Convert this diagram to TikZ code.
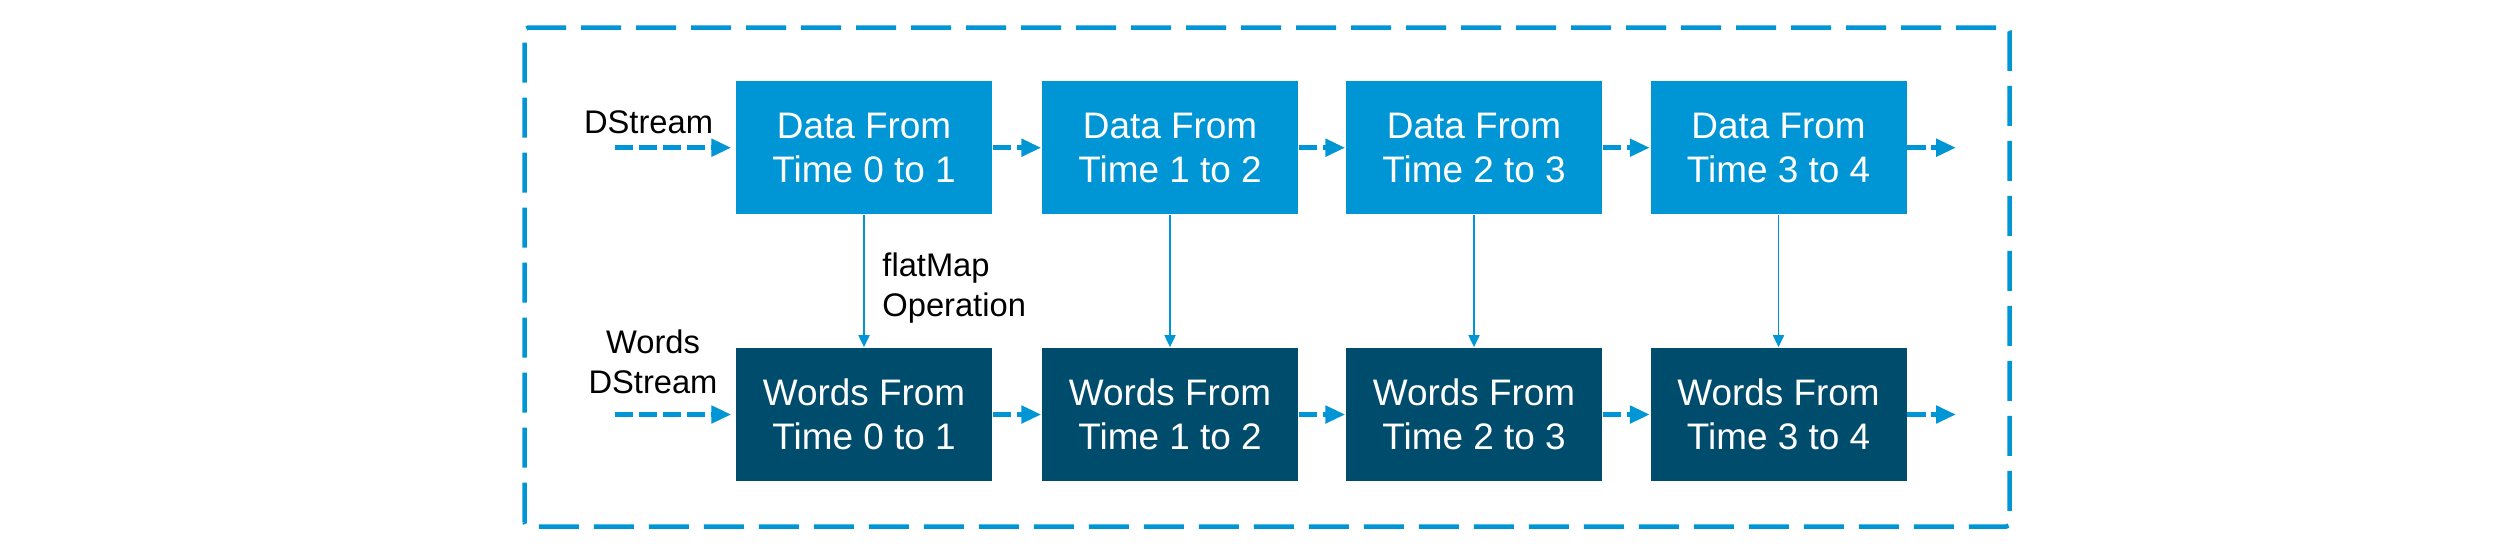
\documentclass[tikz,border=0pt]{standalone}
\usepackage{fontspec}
\setmainfont{Liberation Sans}
\usetikzlibrary{arrows.meta}

\definecolor{streamblue}{RGB}{0,150,214}
\definecolor{wordsblue}{RGB}{0,76,108}

\tikzset{
    batch/.style={fill=streamblue, text=white, inner sep=0pt, minimum width=2.56cm, minimum height=1.333cm, align=center, font=\fontsize{10.5}{12.5}\selectfont},
    wordbatch/.style={batch, fill=wordsblue},
    tag/.style={inner sep=0pt, align=center, font=\fontsize{9.3}{11.5}\selectfont},
    flow/.style={streamblue, line width=1.55pt, dash pattern=on 0.183cm off 0.057cm, -{Triangle[length=0.2cm, width=0.17cm]}},
    op/.style={streamblue, line width=0.5pt, -{Triangle[length=0.12cm, width=0.11cm]}}
}

\begin{document}
\begin{tikzpicture}
    \useasboundingbox (0, 0) rectangle (25, 5.53);
    \draw[streamblue, line width=1.28pt, dash pattern=on 0.4cm off 0.15cm, rounded corners=0.04cm] (5.245, 0.263) rectangle (20.097, 5.255);

    \node[batch] (D0) at (8.64, 4.053) {Data From\\Time 0 to 1};
    \node[batch] (D1) at (11.70, 4.053) {Data From\\Time 1 to 2};
    \node[batch] (D2) at (14.74, 4.053) {Data From\\Time 2 to 3};
    \node[batch] (D3) at (17.785, 4.053) {Data From\\Time 3 to 4};

    \node[wordbatch] (W0) at (8.64, 1.385) {Words From\\Time 0 to 1};
    \node[wordbatch] (W1) at (11.70, 1.385) {Words From\\Time 1 to 2};
    \node[wordbatch] (W2) at (14.74, 1.385) {Words From\\Time 2 to 3};
    \node[wordbatch] (W3) at (17.785, 1.385) {Words From\\Time 3 to 4};

    \node[tag, anchor=south] (dlabel) at (6.485, 4.18) {DStream};
    \node[tag, anchor=south] (wlabel) at (6.53, 1.58) {Words\\DStream};
    \node[tag, anchor=north west, align=left] (oplabel) at (8.817, 3.013) {flatMap\\Operation};

    \coordinate (Din) at (6.15, 4.053);
    \coordinate (Win) at (6.15, 1.385);
    \coordinate (Dout) at (19.56, 4.053);
    \coordinate (Wout) at (19.56, 1.385);

    \draw[flow, shorten >=0.04cm] (Din) -- (D0);
    \draw[flow] (D0) -- (D1);
    \draw[flow] (D1) -- (D2);
    \draw[flow] (D2) -- (D3);
    \draw[flow] (D3) -- (Dout);

    \draw[flow, shorten >=0.04cm] (Win) -- (W0);
    \draw[flow] (W0) -- (W1);
    \draw[flow] (W1) -- (W2);
    \draw[flow] (W2) -- (W3);
    \draw[flow] (W3) -- (Wout);

    \draw[op] (D0) -- (W0);
    \draw[op] (D1) -- (W1);
    \draw[op] (D2) -- (W2);
    \draw[op] (D3) -- (W3);
\end{tikzpicture}
\end{document}
